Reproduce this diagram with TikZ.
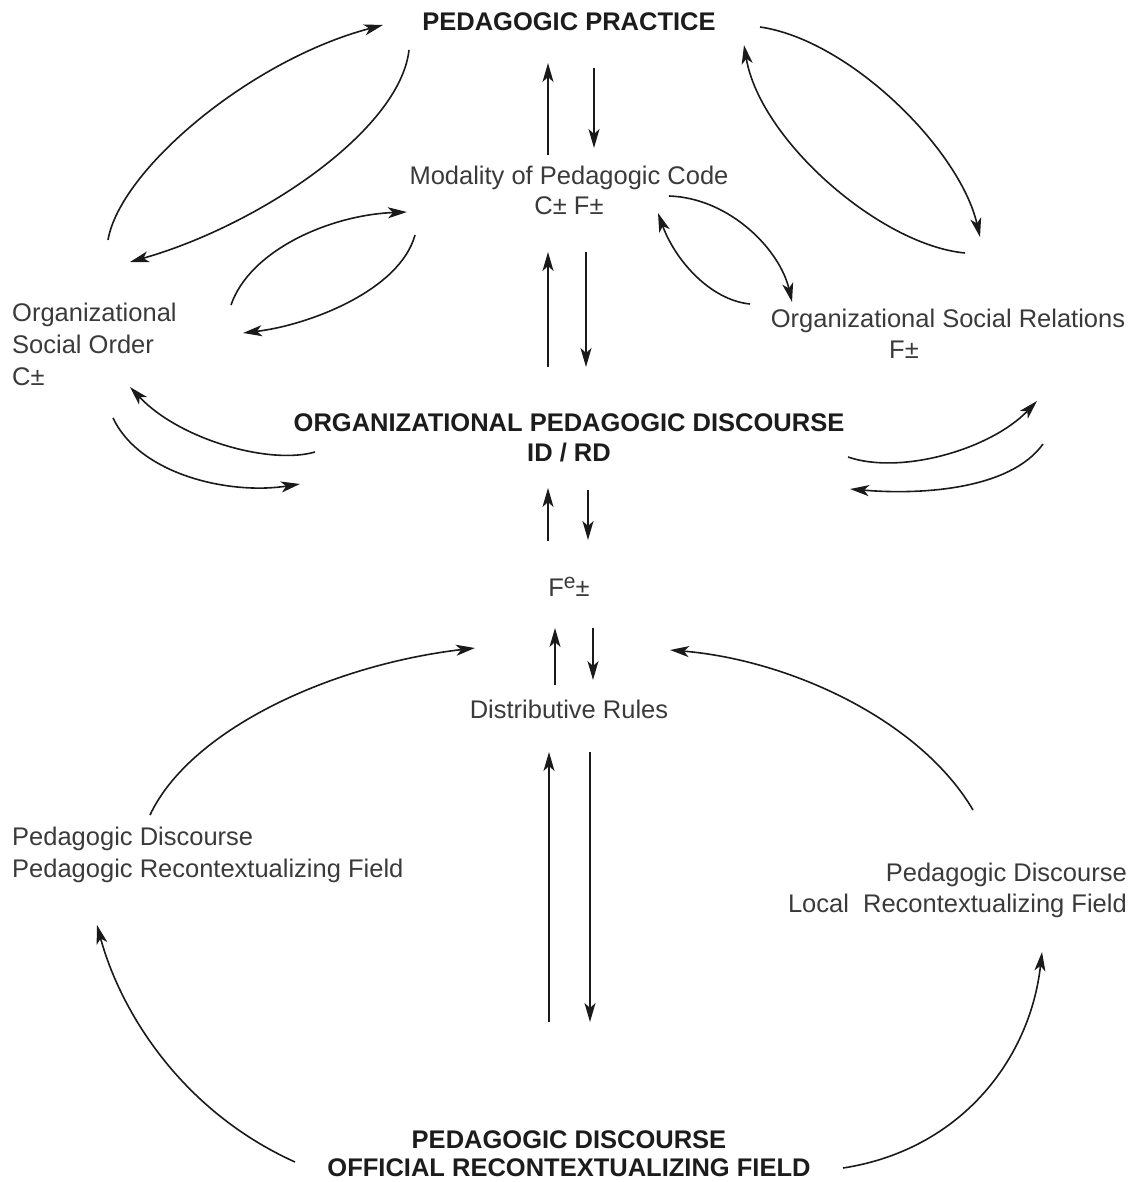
\documentclass[tikz,border=0pt]{standalone}
\usepackage{fontspec}
\setmainfont{Liberation Sans}
\usetikzlibrary{arrows.meta}
\definecolor{txt}{HTML}{3A3A3A}
\definecolor{hdr}{HTML}{1C1C1C}
\definecolor{ink}{HTML}{1A1A1A}

\begin{document}
\begin{tikzpicture}[x=1pt,y=-1pt,
  lbl/.style={inner sep=0pt, text=txt, font=\fontsize{25.5}{31}\selectfont},
  head/.style={inner sep=0pt, text=hdr, font=\fontsize{25.5}{30}\selectfont\bfseries},
  flow/.style={draw=ink, line width=1.6pt, -{Stealth[length=19pt,width=11pt,inset=5pt]}}]

\useasboundingbox (0,0) rectangle (1134,1182);

% ---- labels ----
\node[head, anchor=base] (pp) at (569,31) {PEDAGOGIC PRACTICE};
\node[lbl, align=center, anchor=north, font=\fontsize{25.5}{30}\selectfont] (mod) at (569,166)
  {Modality of Pedagogic Code\\C± F±};
\node[lbl, anchor=base] (osr) at (948,327) {Organizational Social Relations};
\node[lbl, anchor=base] (osrf) at (904,358) {F±};
\node[lbl, align=left, anchor=north west, font=\fontsize{25.5}{32}\selectfont] (oso) at (12,303)
  {Organizational\\Social Order\\C±};
\node[head, align=center, anchor=north, font=\fontsize{25.5}{30.5}\selectfont\bfseries] (opd) at (569,413)
  {ORGANIZATIONAL PEDAGOGIC DISCOURSE\\ID / RD};
\node[lbl, anchor=base] (fe) at (569,596)
  {F\raisebox{7.5pt}{\fontsize{21}{21}\selectfont e}±};
\node[lbl, anchor=base] (dr) at (569,718) {Distributive Rules};
\node[lbl, align=left, anchor=north west, font=\fontsize{25.5}{32}\selectfont] (prf) at (12,827)
  {Pedagogic Discourse\\Pedagogic Recontextualizing Field};
\node[lbl, align=right, anchor=north east] (lrf) at (1127,863)
  {Pedagogic Discourse\\Local\ \ Recontextualizing Field};
\node[head, align=center, anchor=north, font=\fontsize{25.5}{28}\selectfont\bfseries] (orf) at (569,1130)
  {PEDAGOGIC DISCOURSE\\OFFICIAL RECONTEXTUALIZING FIELD};

% ---- vertical arrow pairs along the centre axis ----
\coordinate (a1u0) at (548,155); \coordinate (a1u1) at (548,63);
\coordinate (a1d0) at (594,68);  \coordinate (a1d1) at (594,148);
\coordinate (a2u0) at (548,367); \coordinate (a2u1) at (548,252);
\coordinate (a2d0) at (586,252); \coordinate (a2d1) at (586,367);
\coordinate (a3u0) at (548,541); \coordinate (a3u1) at (548,488);
\coordinate (a3d0) at (588,490); \coordinate (a3d1) at (588,540);
\coordinate (a4u0) at (555,685); \coordinate (a4u1) at (555,628);
\coordinate (a4d0) at (593,628); \coordinate (a4d1) at (593,680);
\coordinate (a5u0) at (549,1022); \coordinate (a5u1) at (549,752);
\coordinate (a5d0) at (590,752);  \coordinate (a5d1) at (590,1022);

\foreach \k in {1,...,5} {
  \draw[flow] (a\k u0) -- (a\k u1);
  \draw[flow] (a\k d0) -- (a\k d1);
}

% ---- curved exchanges, upper left ----
\coordinate (lo0) at (108,240); \coordinate (lo1) at (383,25);
\coordinate (li0) at (409,50);  \coordinate (li1) at (130,262);
\coordinate (so0) at (231,305); \coordinate (so1) at (407,212);
\coordinate (si0) at (415,235); \coordinate (si1) at (243,333);
\draw[flow] (lo0) .. controls (120,170) and (250,60) .. (lo1);
\draw[flow] (li0) .. controls (400,130) and (260,225) .. (li1);
\draw[flow] (so0) .. controls (250,250) and (330,215) .. (so1);
\draw[flow] (si0) .. controls (400,290) and (310,325) .. (si1);

% ---- curved exchanges, upper right ----
\coordinate (ro0) at (760,27);  \coordinate (ro1) at (980,237);
\coordinate (ri0) at (965,253); \coordinate (ri1) at (744,45);
\coordinate (to0) at (669,196); \coordinate (to1) at (792,302);
\coordinate (ti0) at (750,304); \coordinate (ti1) at (658,213);
\draw[flow] (ro0) .. controls (850,40) and (960,150) .. (ro1);
\draw[flow] (ri0) .. controls (880,245) and (760,140) .. (ri1);
\draw[flow] (to0) .. controls (730,198) and (780,250) .. (to1);
\draw[flow] (ti0) .. controls (710,300) and (675,260) .. (ti1);

% ---- curved exchanges beside the organizational discourse ----
\coordinate (ml0) at (315,452); \coordinate (ml1) at (130,387);
\coordinate (mk0) at (113,418); \coordinate (mk1) at (300,484);
\coordinate (mr0) at (848,457); \coordinate (mr1) at (1037,401);
\coordinate (mq0) at (1043,444); \coordinate (mq1) at (850,489);
\draw[flow] (ml0) .. controls (270,465) and (180,440) .. (ml1);
\draw[flow] (mk0) .. controls (140,475) and (230,495) .. (mk1);
\draw[flow] (mr0) .. controls (900,475) and (990,450) .. (mr1);
\draw[flow] (mq0) .. controls (1010,490) and (920,495) .. (mq1);

% ---- recontextualizing fields feeding the distributive rules ----
\coordinate (pl0) at (150,815); \coordinate (pl1) at (475,648);
\coordinate (pr0) at (973,810); \coordinate (pr1) at (670,650);
\draw[flow] (pl0) .. controls (190,730) and (330,665) .. (pl1);
\draw[flow] (pr0) .. controls (920,720) and (790,660) .. (pr1);

% ---- official field feeding both recontextualizing fields ----
\coordinate (bl0) at (295,1162); \coordinate (bl1) at (97,925);
\coordinate (br0) at (843,1168); \coordinate (br1) at (1042,952);
\draw[flow] (bl0) .. controls (180,1110) and (120,1010) .. (bl1);
\draw[flow] (br0) .. controls (960,1150) and (1030,1060) .. (br1);

\end{tikzpicture}
\end{document}
